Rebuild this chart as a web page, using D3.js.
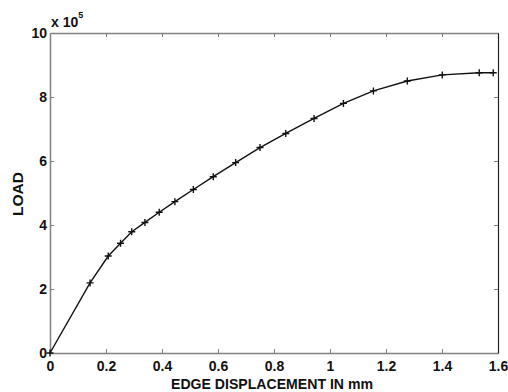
<!DOCTYPE html>
<html><head><meta charset="utf-8">
<script src="https://cdn.jsdelivr.net/npm/d3@7"></script>
<style>body{margin:0;background:#fff}svg{display:block}text{font-family:"Liberation Sans",Arial,sans-serif;font-weight:bold;fill:#111}</style>
</head><body><svg id="c" width="508" height="392"></svg>
<script>
const displacement = [0, 0.143, 0.208, 0.252, 0.292, 0.339, 0.39, 0.446, 0.512, 0.583, 0.663, 0.75, 0.842, 0.943, 1.048, 1.155, 1.276, 1.401, 1.533, 1.583];
const load = [0, 2.19, 3.03, 3.43, 3.79, 4.08, 4.40, 4.73, 5.11, 5.51, 5.95, 6.42, 6.86, 7.33, 7.80, 8.19, 8.50, 8.69, 8.76, 8.76];
const xTicks = [0, 0.2, 0.4, 0.6, 0.8, 1, 1.2, 1.4, 1.6];
const yTicks = [0, 2, 4, 6, 8, 10];
const xLabel = "EDGE DISPLACEMENT IN mm";
const yLabel = "LOAD";

const svg = d3.select("#c");
const L = 50, R = 498, T = 33, B = 353;
const x = d3.scaleLinear().domain([0, 1.6]).range([L, R]);
const y = d3.scaleLinear().domain([0, 10]).range([B, T]);
const axisColor = "#808080";

const gx = svg.append("g").attr("transform", `translate(0,${B})`)
  .call(d3.axisBottom(x).tickValues(xTicks).tickFormat(d3.format("~g")).tickSizeInner(-4).tickSizeOuter(0).tickPadding(8));
const gy = svg.append("g").attr("transform", `translate(${L},0)`)
  .call(d3.axisLeft(y).tickValues(yTicks).tickFormat(d3.format("~g")).tickSizeInner(-4).tickSizeOuter(0).tickPadding(3));
const gt = svg.append("g").attr("transform", `translate(0,${T})`)
  .call(d3.axisTop(x).tickValues(xTicks).tickFormat("").tickSizeInner(-4).tickSizeOuter(0));
const gr = svg.append("g").attr("transform", `translate(${R},0)`)
  .call(d3.axisRight(y).tickValues(yTicks).tickFormat("").tickSizeInner(-4).tickSizeOuter(0));

[gx, gy, gt].forEach(g => { g.select(".domain").attr("stroke", axisColor).attr("stroke-width", 1.5); g.selectAll(".tick line").attr("stroke", axisColor); });
gr.select(".domain").attr("stroke", "#222").attr("stroke-width", 1.2);
gr.selectAll(".tick line").attr("stroke", axisColor);
[gx, gy].forEach(g => g.selectAll(".tick text").style("font-size", "14px").style("font-family", "'Liberation Sans',Arial,sans-serif").style("font-weight", "bold").attr("fill", "#111"));
gx.selectAll(".tick text").attr("dy", "0.71em");

const ex = svg.append("text").attr("x", 51).attr("y", 27).style("font-size", "14px");
ex.append("tspan").text("x 10");
ex.append("tspan").attr("dy", -9).style("font-size", "9px").text("5");

svg.append("text").attr("x", 272).attr("y", 389).attr("text-anchor", "middle").style("font-size", "15px")
  .attr("textLength", 202).attr("lengthAdjust", "spacingAndGlyphs").text(xLabel);
svg.append("text").attr("transform", `translate(23,194) rotate(-90)`).attr("text-anchor", "middle").style("font-size", "15px")
  .attr("textLength", 44).attr("lengthAdjust", "spacingAndGlyphs").text(yLabel);

const pts = displacement.map((d, i) => [d, load[i]]);
svg.append("path").datum(pts)
  .attr("d", d3.line().x(d => x(d[0])).y(d => y(d[1])))
  .attr("fill", "none").attr("stroke", "#111").attr("stroke-width", 1.4);
const s = 3.5;
svg.append("g").selectAll("path").data(pts).join("path")
  .attr("d", d => `M${x(d[0]) - s},${y(d[1])}H${x(d[0]) + s}M${x(d[0])},${y(d[1]) - s}V${y(d[1]) + s}`)
  .attr("stroke", "#111").attr("stroke-width", 1.4);
</script></body></html>
